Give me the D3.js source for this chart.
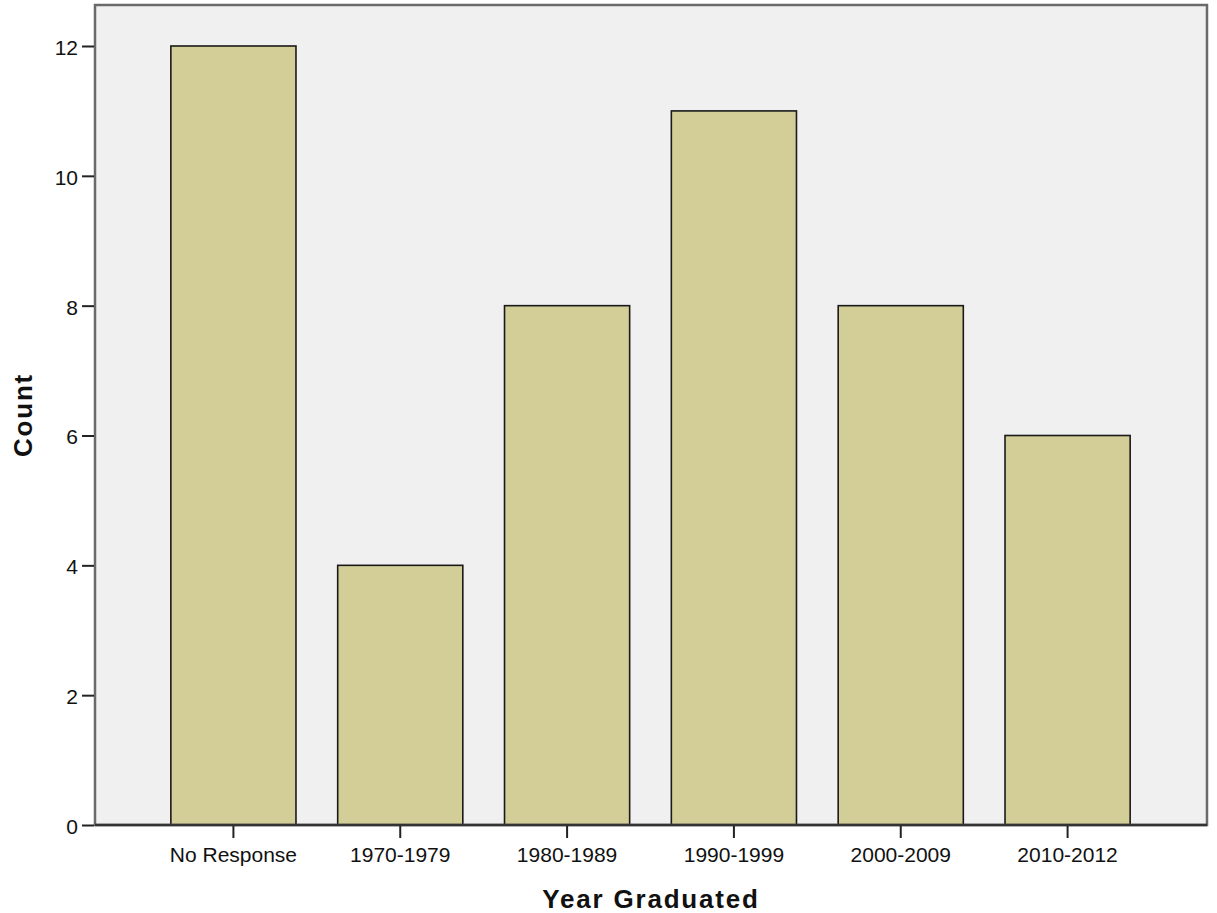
<!DOCTYPE html>
<html>
<head>
<meta charset="utf-8">
<script src="https://cdn.jsdelivr.net/npm/d3@7"></script>
<style>
  html, body { margin: 0; padding: 0; background: #ffffff; }
  svg { display: block; }
  text { font-family: "Liberation Sans", Arial, sans-serif; fill: #111; }
</style>
</head>
<body>
<svg id="chart" width="1217" height="913"></svg>
<script>
const categories = ["No Response", "1970-1979", "1980-1989", "1990-1999", "2000-2009", "2010-2012"];
const counts = [12, 4, 8, 11, 8, 6];
const yTicks = [0, 2, 4, 6, 8, 10, 12];
const xTitle = "Year Graduated";
const yTitle = "Count";

const W = 1217, H = 913;
const plot = { left: 95, top: 5, right: 1207, bottom: 825 };

const svg = d3.select("#chart");

const x = d3.scaleBand()
  .domain(categories)
  .range([150, 1151])
  .paddingInner(0.25)
  .paddingOuter(0.125);

const y = d3.scaleLinear()
  .domain([0, 12])
  .range([plot.bottom, 46]);

// plot background
svg.append("rect")
  .attr("x", plot.left).attr("y", plot.top)
  .attr("width", plot.right - plot.left)
  .attr("height", plot.bottom - plot.top)
  .attr("fill", "#f0f0f0");

// bars
svg.append("g").selectAll("rect")
  .data(categories.map((c, i) => ({ c, v: counts[i] })))
  .join("rect")
  .attr("x", d => x(d.c))
  .attr("y", d => y(d.v))
  .attr("width", x.bandwidth())
  .attr("height", d => y(0) - y(d.v))
  .attr("fill", "#d3ce98")
  .attr("stroke", "#1a1a1a")
  .attr("stroke-width", 1.6);

// frame
svg.append("rect")
  .attr("x", plot.left).attr("y", plot.top)
  .attr("width", plot.right - plot.left)
  .attr("height", plot.bottom - plot.top)
  .attr("fill", "none")
  .attr("stroke", "#6a6a6a")
  .attr("stroke-width", 2.5);

// y axis
const yAxis = d3.axisLeft(y).tickValues(yTicks).tickSize(12).tickPadding(4).tickFormat(d3.format("d"));
const gy = svg.append("g").attr("transform", `translate(${plot.left - 1},0)`).call(yAxis);
gy.select(".domain").remove();
gy.selectAll(".tick line").attr("stroke", "#222").attr("stroke-width", 2);
gy.selectAll(".tick text").attr("font-size", 21).attr("fill", "#111")
  .attr("font-family", "Liberation Sans, Arial, sans-serif").attr("dy", "0.4em");

// bottom axis line (darker) and x axis
svg.append("line")
  .attr("x1", plot.left).attr("x2", plot.right)
  .attr("y1", plot.bottom).attr("y2", plot.bottom)
  .attr("stroke", "#333").attr("stroke-width", 2.5);

const xAxis = d3.axisBottom(x).tickSize(12).tickPadding(9);
const gx = svg.append("g").attr("transform", `translate(0,${plot.bottom + 1})`).call(xAxis);
gx.select(".domain").remove();
gx.selectAll(".tick line").attr("stroke", "#222").attr("stroke-width", 2);
gx.selectAll(".tick text").attr("font-size", 21).attr("fill", "#111")
  .attr("font-family", "Liberation Sans, Arial, sans-serif");

// titles
svg.append("text")
  .attr("x", (plot.left + plot.right) / 2)
  .attr("y", 908)
  .attr("text-anchor", "middle")
  .attr("font-size", 26)
  .attr("font-weight", "bold")
  .attr("letter-spacing", "1.8px")
  .text(xTitle);

svg.append("text")
  .attr("transform", `translate(32,${(plot.top + plot.bottom) / 2}) rotate(-90)`)
  .attr("text-anchor", "middle")
  .attr("font-size", 26)
  .attr("font-weight", "bold")
  .attr("letter-spacing", "1.8px")
  .text(yTitle);
</script>
</body>
</html>
